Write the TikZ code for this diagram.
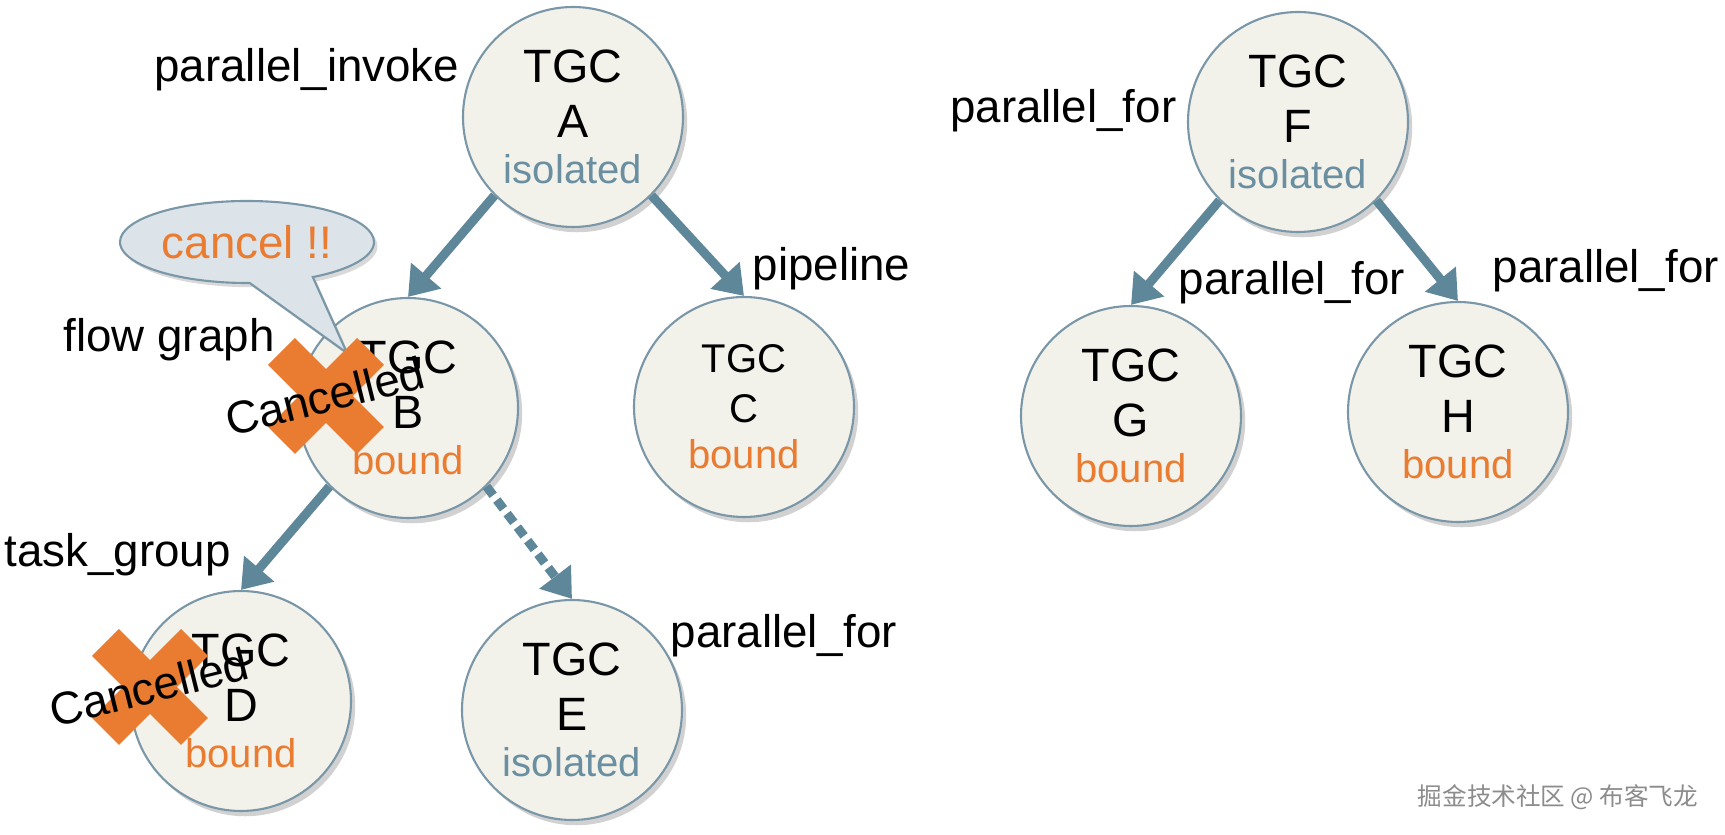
\documentclass[tikz,border=0pt]{standalone}
\usepackage{fontspec}
\setmainfont{Liberation Sans}
\newfontfamily\cjkfont{Noto Sans CJK SC}
\usepackage{xcolor}
\usetikzlibrary{positioning, arrows.meta, shapes.misc, shapes.callouts, shadows}
\definecolor{tgcFill}{RGB}{242,241,234}
\definecolor{tgcLine}{RGB}{122,151,168}
\definecolor{arrowColor}{RGB}{94,135,153}
\definecolor{boundColor}{RGB}{233,124,48}
\definecolor{isoColor}{RGB}{106,143,161}
\definecolor{bubbleFill}{RGB}{220,227,233}
\newcommand{\stBound}{{\fontsize{11.4}{15.5}\selectfont\color{boundColor}bound}}
\newcommand{\stIso}{{\fontsize{11.4}{15.5}\selectfont\color{isoColor}isolated}}
\tikzset{
    tgc/.style={
        circle,
        draw=tgcLine,
        line width=0.6pt,
        fill=tgcFill,
        minimum size=2.2cm,
        inner sep=0pt,
        align=center,
        font=\fontsize{13.3}{15.5}\selectfont,
        drop shadow={shadow xshift=1.2pt, shadow yshift=-1.5pt, opacity=0.3, fill=black!60}
    },
    ptr/.style={
        -{Triangle[length=0.28cm, width=0.38cm]},
        line width=0.09cm,
        arrowColor
    },
    lbl/.style={font=\fontsize{13}{15}\selectfont, inner sep=0pt},
    cancelX/.style={cross out, draw=boundColor, line width=0.38cm, minimum size=0.89cm, inner sep=0pt, outer sep=0pt},
    cancelTxt/.style={font=\fontsize{13}{15}\selectfont, rotate=14, inner sep=0pt}
}
\begin{document}
\begin{tikzpicture}
                \useasboundingbox (0,0) rectangle (17.25,-8.35);

                % 1. Các node TGC
                \node[tgc] (tgcA) at (5.73,-1.17) {TGC\\A\\[-2.3pt]\stIso};
                \node[tgc] (tgcB) at (4.08,-4.08) {TGC\\B\\[-2.3pt]\stBound};
                \node[tgc, font=\fontsize{11.4}{14.2}\selectfont] (tgcC) at (7.44,-4.07) {TGC\\C\\[-1pt]\stBound};
                \node[tgc] (tgcD) at (2.41,-7.01) {TGC\\D\\[-2.3pt]\stBound};
                \node[tgc] (tgcE) at (5.72,-7.10) {TGC\\E\\[-2.3pt]\stIso};
                \node[tgc] (tgcF) at (12.98,-1.22) {TGC\\F\\[-2.3pt]\stIso};
                \node[tgc] (tgcG) at (11.31,-4.16) {TGC\\G\\[-2.3pt]\stBound};
                \node[tgc] (tgcH) at (14.58,-4.12) {TGC\\H\\[-2.3pt]\stBound};

                % 2. Nhãn
                \node[lbl, anchor=base east] (lInvoke) at (4.60,-0.82) {parallel\_invoke};
                \node[lbl, anchor=base east] (lForF) at (11.77,-1.23) {parallel\_for};
                \node[lbl, anchor=base west] (lPipe) at (7.52,-2.81) {pipeline};
                \node[lbl, anchor=base west] (lForG) at (11.78,-2.95) {parallel\_for};
                \node[lbl, anchor=base west] (lForH) at (14.92,-2.83) {parallel\_for};
                \node[lbl, anchor=base west] (lFlow) at (0.63,-3.52) {flow graph};
                \node[lbl, anchor=base west] (lTask) at (0.04,-5.67) {task\_group};
                \node[lbl, anchor=base west] (lForE) at (6.70,-6.48) {parallel\_for};

                % 3. Mũi tên
                \draw[ptr] (tgcA.-135) -- (tgcB.90);
                \draw[ptr] (tgcA.-45) -- (tgcC.90);
                \draw[ptr] (tgcB.-135) -- (tgcD.90);
                \draw[ptr, dash pattern=on 0.11cm off 0.06cm] (tgcB.-45) -- (tgcE.90);
                \draw[ptr] (tgcF.-135) -- (tgcG.90);
                \draw[ptr] (tgcF.-45) -- (tgcH.90);

                % 4. Bong bóng
                \coordinate (tip) at (3.47,-3.53);
                \node[ellipse callout, draw=tgcLine, line width=0.6pt, fill=bubbleFill,
                      minimum width=2.54cm, minimum height=0.82cm,
                      callout absolute pointer={(tip)}, callout pointer arc=30,
                      drop shadow={shadow xshift=1pt, shadow yshift=-1.2pt, opacity=0.25, fill=black!60},
                      lbl, text=boundColor] (bubble) at (2.47,-2.42) {cancel !!};

                % 5. Dấu hủy
                \node[cancelX] (xB) at (3.26,-3.96) {};
                \node[cancelTxt] (cB) at (3.25,-3.96) {Cancelled};
                \node[cancelX] (xD) at (1.50,-6.87) {};
                \node[cancelTxt] (cD) at (1.49,-6.87) {Cancelled};

                % 6. Chữ mờ
                \node[font=\cjkfont\fontsize{7}{8}\selectfont, text=black!45] (mark) at (15.58,-7.97) {掘金技术社区 @ 布客飞龙};
            \end{tikzpicture}
\end{document}
